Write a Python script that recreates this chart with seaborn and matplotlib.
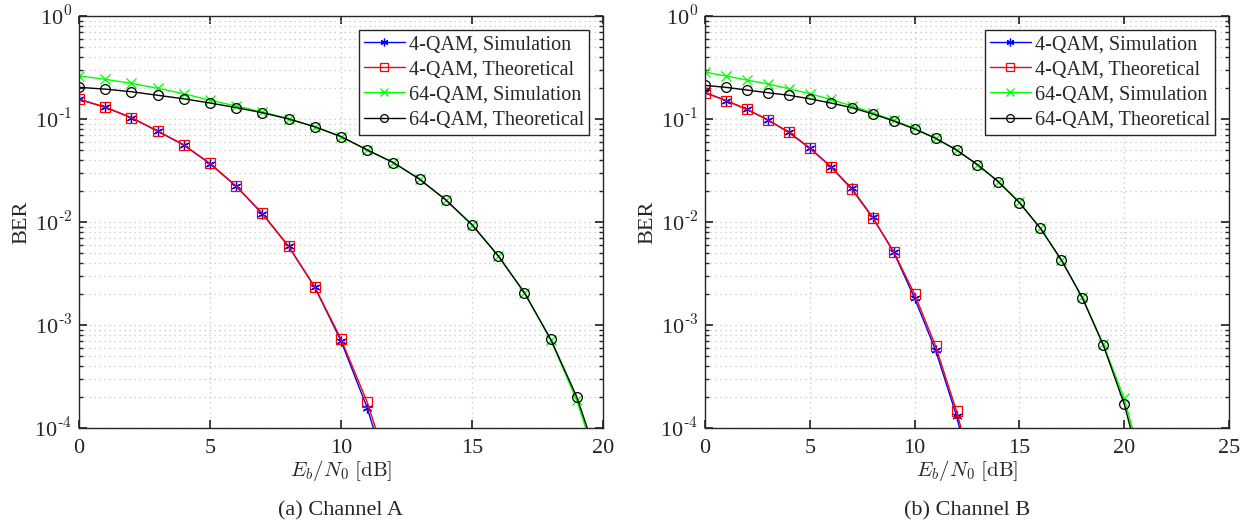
# BER curves for 4-QAM / 64-QAM over two channels
import math
import matplotlib
matplotlib.use("Agg")
import matplotlib.pyplot as plt
import matplotlib.ticker as mticker
import seaborn as sns

# Panel (a) Channel A
snr_4qam_a = list(range(0, 13))
ber_4qam_sim_a = [0.156, 0.130, 0.103, 0.0762, 0.0558, 0.0368, 0.0222, 0.0120, 0.0058, 0.00232, 7.0e-4, 1.57e-4, 2.3e-5]
ber_4qam_theo_a = [0.155, 0.130, 0.103, 0.0765, 0.0560, 0.0370, 0.0223, 0.0121, 0.0058, 0.00234, 7.3e-4, 1.78e-4, 2.9e-5]
snr_64qam_a = list(range(0, 21))
ber_64qam_sim_a = [0.262, 0.243, 0.222, 0.199, 0.176, 0.152, 0.134, 0.117, 0.101, 0.084, 0.0674, 0.0500, 0.0378,
                   0.0261, 0.0163, 0.0094, 0.0047, 0.00205, 7.2e-4, 1.85e-4, 3.0e-5]
ber_64qam_theo_a = [0.203, 0.195, 0.184, 0.170, 0.157, 0.143, 0.129, 0.115, 0.100, 0.084, 0.0676, 0.050, 0.0377,
                    0.026, 0.0164, 0.0094, 0.0047, 0.00206, 7.3e-4, 2.0e-4, 3.5e-5]

# Panel (b) Channel B
snr_4qam_b = list(range(0, 14))
ber_4qam_sim_b = [0.181, 0.151, 0.124, 0.098, 0.074, 0.052, 0.0345, 0.0212, 0.0111, 0.0051, 0.00182, 5.7e-4, 1.31e-4, 2.0e-5]
ber_4qam_theo_b = [0.180, 0.151, 0.124, 0.098, 0.0745, 0.0525, 0.0344, 0.0208, 0.0110, 0.00515, 0.00199, 6.25e-4, 1.46e-4, 2.5e-5]
snr_64qam_b = list(range(0, 22))
ber_64qam_sim_b = [0.286, 0.261, 0.239, 0.219, 0.197, 0.176, 0.155, 0.134, 0.115, 0.097, 0.081, 0.065, 0.050, 0.036,
                   0.0247, 0.0155, 0.0087, 0.0043, 0.00185, 6.5e-4, 1.94e-4, 3.5e-5]
ber_64qam_theo_b = [0.212, 0.203, 0.191, 0.180, 0.170, 0.157, 0.143, 0.129, 0.112, 0.0957, 0.080, 0.065, 0.050, 0.036,
                    0.0246, 0.0154, 0.0087, 0.00428, 0.00184, 6.4e-4, 1.71e-4, 2.9e-5]

labels = ["4-QAM, Simulation", "4-QAM, Theoretical", "64-QAM, Simulation", "64-QAM, Theoretical"]
colors = ["#0000ff", "#ff0000", "#00ff00", "#000000"]
markers = [(6, 2, 0), "s", "x", "o"]
captions = ["(a) Channel A", "(b) Channel B"]
xmax = [20, 25]

sns.set_theme(style="ticks")
plt.rcParams["font.family"] = ["Liberation Serif", "DejaVu Serif"]
plt.rcParams["mathtext.fontset"] = "cm"
plt.rcParams["axes.edgecolor"] = "#262626"


def log_label(v, pos):
    # MATLAB-style 10^-n labels with a plain hyphen
    e = int(round(math.log10(v)))
    return r"10$^{\mathrm{%s}}$" % (str(e).replace("-", "\u2010") if e < 0 else str(e))


fig = plt.figure(figsize=(12.41, 5.29), dpi=100)
ax_a = fig.add_axes([79 / 1241, 101 / 529, 524 / 1241, 412 / 529])
ax_b = fig.add_axes([705 / 1241, 101 / 529, 524 / 1241, 412 / 529])

panels = [
    (ax_a, [(snr_4qam_a, ber_4qam_sim_a), (snr_4qam_a, ber_4qam_theo_a),
            (snr_64qam_a, ber_64qam_sim_a), (snr_64qam_a, ber_64qam_theo_a)]),
    (ax_b, [(snr_4qam_b, ber_4qam_sim_b), (snr_4qam_b, ber_4qam_theo_b),
            (snr_64qam_b, ber_64qam_sim_b), (snr_64qam_b, ber_64qam_theo_b)]),
]

for i, (ax, series) in enumerate(panels):
    for j, (xs, ys) in enumerate(series):
        sns.lineplot(x=xs, y=ys, ax=ax, color=colors[j], marker=markers[j], markersize=7,
                     markerfacecolor="none", markeredgecolor=colors[j], markeredgewidth=0.9,
                     linewidth=1.0, label=labels[j])
    ax.set_yscale("log")
    ax.set_ylim(1e-4, 1)
    ax.set_xlim(0, xmax[i])
    ax.xaxis.set_major_locator(mticker.MultipleLocator(5))
    ax.yaxis.set_major_locator(mticker.LogLocator(base=10, numticks=10))
    ax.yaxis.set_major_formatter(mticker.FuncFormatter(log_label))
    ax.yaxis.set_minor_locator(mticker.LogLocator(base=10, subs=range(2, 10), numticks=10))
    ax.yaxis.set_minor_formatter(mticker.NullFormatter())
    ax.grid(True, which="major", linestyle=(0, (1, 3)), color="#c4c4c4", linewidth=0.9)
    ax.grid(True, which="minor", axis="y", linestyle=(0, (1, 3)), color="#c4c4c4", linewidth=0.9)
    ax.tick_params(which="both", direction="in", top=True, right=True, labelsize=16, colors="#262626")
    ax.tick_params(which="major", length=6, pad=5)
    ax.tick_params(axis="x", which="major", pad=8)
    ax.tick_params(which="minor", length=3)
    for sp in ax.spines.values():
        sp.set_linewidth(1.0)
        sp.set_visible(True)
    ax.set_xlabel(r"$E_b/N_0\ \mathrm{[dB]}$", fontsize=15, labelpad=0, color="#262626")
    ax.set_ylabel("BER", fontsize=16, labelpad=2, color="#262626")
    leg = ax.legend(loc="upper right", fontsize=14.5, frameon=True, fancybox=False, framealpha=1,
                    edgecolor="#262626", handlelength=2.0, handletextpad=0.2, labelspacing=0.3,
                    borderpad=0.25, borderaxespad=0.7, markerscale=0.8)
    leg.get_frame().set_linewidth(1.0)
    pos = ax.get_position()
    fig.text(pos.x0 + pos.width / 2, 0.035, captions[i], ha="center", va="center", fontsize=16)

fig.savefig("out.png", dpi=100)
